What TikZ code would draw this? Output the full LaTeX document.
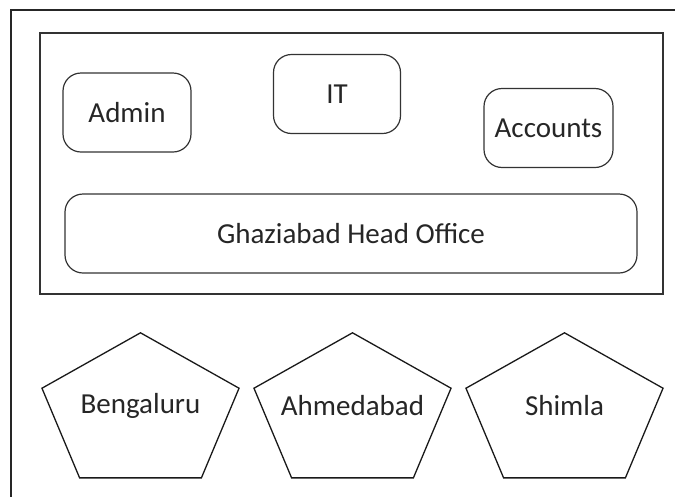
\documentclass[tikz,border=0pt]{standalone}
\usepackage{fontspec}
\setmainfont{Carlito}
\usepackage{tikz}
\usetikzlibrary{positioning}

\begin{document}
\begin{tikzpicture}[
  x=1pt,y=-1pt,
  frame/.style={draw=black!85,line width=2.2pt},
  office/.style={draw=black!80,line width=1.6pt},
  dept/.style={draw=black!80,line width=1.2pt,rounded corners=18pt,
               font=\fontsize{29}{33}\selectfont,text=black!85,
               minimum height=79pt,inner sep=0pt},
  city/.style={draw=black!90,line width=1.3pt,line join=miter},
  cityname/.style={font=\fontsize{29}{33}\selectfont,text=black!85,inner sep=0pt}
]
  \useasboundingbox (0,0) rectangle (675,496);
  \begin{scope}
    \clip (0,0) rectangle (675,496);
    \draw[frame] (11,10) rectangle (700,520);
  \end{scope}

  % head office block
  \draw[office] (40,33) rectangle (663,294);
  \node[dept,minimum width=128pt] (admin) at (127,112.5) {Admin};
  \node[dept,minimum width=127pt] (it)    at (337,94)    {IT};
  \node[dept,minimum width=129pt] (acct)  at (548.5,128) {Accounts};
  \node[dept,minimum width=572pt] (hq)    at (351,233.5) {Ghaziabad Head Office};

  % branch offices
  \foreach \cx/\nm/\txt in {140.5/beng/Bengaluru,352.5/ahmd/Ahmedabad,564.5/shim/Shimla}{
    \draw[city,shift={(\cx,413)}]
      (-90:103.6 and 80.2) -- (-18:103.6 and 80.2) -- (54:103.6 and 80.2)
      -- (126:103.6 and 80.2) -- (198:103.6 and 80.2) -- cycle;
    \node[cityname] (\nm) at (\cx,406) {\txt};
  }
\end{tikzpicture}
\end{document}
